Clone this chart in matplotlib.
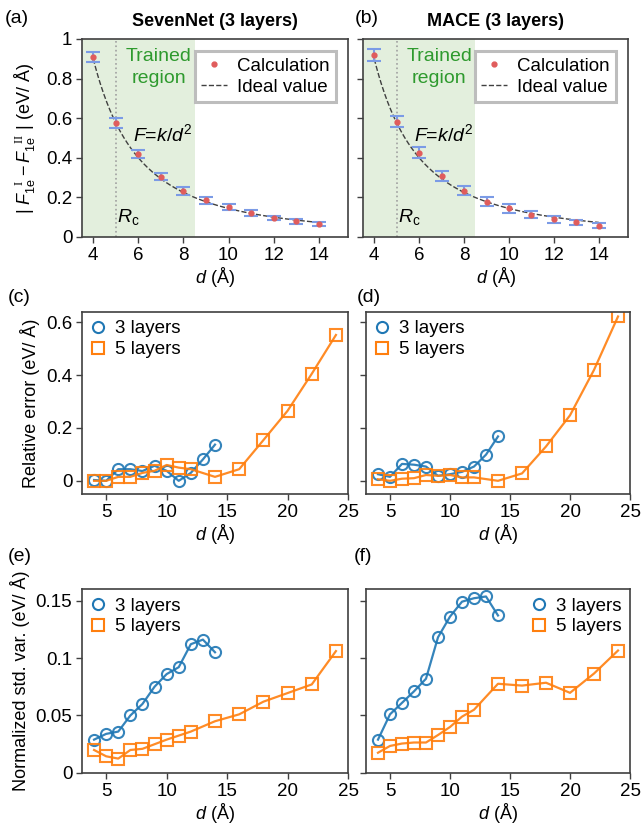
import matplotlib
matplotlib.use('agg')
import numpy as np
import matplotlib.pyplot as plt
from matplotlib.lines import Line2D

plt.rcParams['font.family'] = ['Liberation Sans', 'DejaVu Sans']
plt.rcParams['font.size'] = 13
plt.rcParams['mathtext.fontset'] = 'custom'
plt.rcParams['mathtext.rm'] = 'Liberation Sans'
plt.rcParams['mathtext.it'] = 'Liberation Sans:italic'
plt.rcParams['mathtext.sf'] = 'Liberation Serif'
plt.rcParams['axes.edgecolor'] = '#404040'
plt.rcParams['axes.linewidth'] = 1.2
plt.rcParams['xtick.color'] = '#404040'
plt.rcParams['ytick.color'] = '#404040'
plt.rcParams['xtick.labelcolor'] = 'black'
plt.rcParams['ytick.labelcolor'] = 'black'

# force difference vs. separation, 3-layer models
d_force = [4, 5, 6, 7, 8, 9, 10, 11, 12, 13, 14]
force_seven = [0.909, 0.574, 0.419, 0.304, 0.233, 0.186, 0.150, 0.122, 0.096, 0.079, 0.064]
err_seven = [0.025, 0.025, 0.020, 0.018, 0.019, 0.017, 0.016, 0.014, 0.012, 0.011, 0.011]
force_mace = [0.917, 0.583, 0.426, 0.309, 0.233, 0.179, 0.144, 0.113, 0.090, 0.074, 0.057]
err_mace = [0.030, 0.030, 0.028, 0.024, 0.023, 0.024, 0.024, 0.019, 0.017, 0.011, 0.012]
k_coulomb = 14.4

# relative error / normalized std. var. vs d
d_3l = [4, 5, 6, 7, 8, 9, 10, 11, 12, 13, 14]
d_5l = [4, 5, 6, 7, 8, 9, 10, 11, 12, 14, 16, 18, 20, 22, 24]

relerr_seven_3l = [0.003, 0.0, 0.044, 0.044, 0.037, 0.057, 0.038, 0.0, 0.030, 0.081, 0.137]
relerr_seven_5l = [0.0, 0.0, 0.015, 0.015, 0.030, 0.038, 0.060, 0.050, 0.044, 0.015, 0.044,
                   0.154, 0.265, 0.405, 0.552]
relerr_mace_3l = [0.025, 0.015, 0.064, 0.061, 0.054, 0.019, 0.025, 0.034, 0.054, 0.099, 0.168]
relerr_mace_5l = [0.006, 0.0, 0.008, 0.010, 0.022, 0.019, 0.022, 0.013, 0.013, 0.0, 0.028,
                  0.130, 0.248, 0.420, 0.622]

std_seven_3l = [0.029, 0.034, 0.036, 0.050, 0.060, 0.075, 0.086, 0.092, 0.112, 0.116, 0.105]
std_seven_5l = [0.020, 0.0145, 0.0125, 0.020, 0.021, 0.025, 0.029, 0.0325, 0.036, 0.045, 0.051,
                0.062, 0.0695, 0.077, 0.106]
std_mace_3l = [0.029, 0.051, 0.061, 0.071, 0.082, 0.118, 0.136, 0.149, 0.152, 0.1535, 0.137]
std_mace_5l = [0.0176, 0.0235, 0.0256, 0.0265, 0.0265, 0.033, 0.040, 0.049, 0.055, 0.0776, 0.076,
               0.0785, 0.0697, 0.0865, 0.1065]

BLUE = '#1f77b4'
ORANGE = '#ff7f0e'
GREEN_TXT = '#2e9a2e'
XLAB = r'$d$ (Å)'

fig = plt.figure(figsize=(6.44, 8.26), dpi=100)
ax_a = fig.add_axes([0.1273, 0.7131, 0.4131, 0.2397])
ax_b = fig.add_axes([0.5637, 0.7131, 0.4115, 0.2397])
ax_c = fig.add_axes([0.1273, 0.4019, 0.4131, 0.2207])
ax_d = fig.add_axes([0.5683, 0.4019, 0.4100, 0.2207])
ax_e = fig.add_axes([0.1273, 0.0642, 0.4131, 0.2227])
ax_f = fig.add_axes([0.5683, 0.0642, 0.4100, 0.2227])


def force_panel(ax, vals, errs, title):
    ax.axvspan(3.5, 8.5, color='#e3efdd', lw=0, zorder=0)
    ax.axvline(5, color='#a0a0a0', ls=':', lw=1.2, zorder=1)
    dd = np.linspace(4, 14, 200)
    ax.plot(dd, k_coulomb / dd ** 2, ls='--', color='#404040', lw=1.0, zorder=2)
    ax.errorbar(d_force, vals, yerr=errs, fmt='none', ecolor='#7b9be6',
                elinewidth=1.5, capsize=5, capthick=1.5, zorder=3)
    ax.plot(d_force, vals, 'o', color='#e05c5c', ms=3.5, zorder=4)
    ax.set_xlim(3.5, 15.3)
    ax.set_ylim(0, 1)
    ax.set_xticks([4, 6, 8, 10, 12, 14])
    ax.set_yticks([0, 0.2, 0.4, 0.6, 0.8, 1])
    ax.set_yticklabels(['0', '0.2', '0.4', '0.6', '0.8', '1'])
    ax.set_xlabel(XLAB, labelpad=1)
    ax.set_title(title, fontweight='bold', fontsize=13, pad=9)
    ax.text(6.9, 0.91, 'Trained', color=GREEN_TXT, ha='center', va='center', fontsize=14)
    ax.text(6.9, 0.80, 'region', color=GREEN_TXT, ha='center', va='center', fontsize=14)
    ax.text(7.1, 0.52, r'$F$=$k$/$d^2$', ha='center', va='center', fontsize=14)
    ax.text(5.55, 0.10, r'$R_{\rm c}$', ha='center', va='center', fontsize=14)
    handles = [Line2D([], [], ls='none', marker='o', color='#e05c5c', ms=3.5),
               Line2D([], [], ls='--', color='#404040', lw=1.0)]
    leg = ax.legend(handles, ['Calculation', 'Ideal value'], loc='upper right',
                    fancybox=False, edgecolor='#bdbdbd', framealpha=1,
                    handlelength=1.4, handletextpad=0.5, borderpad=0.35,
                    labelspacing=0.2, fontsize=13.5, bbox_to_anchor=(0.99, 0.985))
    leg.get_frame().set_linewidth(2.2)


def series_panel(ax, y3, y5, ylim, legend_loc):
    ax.plot(d_3l, y3, '-o', color=BLUE, mfc='none', mec=BLUE, ms=8, mew=1.5,
            lw=1.6, alpha=0.9)
    ax.plot(d_5l, y5, '-s', color=ORANGE, mfc='none', mec=ORANGE, ms=8, mew=1.5,
            lw=1.6, alpha=0.9)
    ax.set_xlim(3, 25)
    ax.set_ylim(*ylim)
    ax.set_xticks([5, 10, 15, 20, 25])
    ax.set_xlabel(XLAB, labelpad=1)
    handles = [Line2D([], [], ls='none', marker='o', mfc='none', mec=BLUE, ms=8, mew=1.5),
               Line2D([], [], ls='none', marker='s', mfc='none', mec=ORANGE, ms=8, mew=1.5)]
    ax.legend(handles, ['3 layers', '5 layers'], loc=legend_loc, frameon=False,
              handlelength=0.8, handletextpad=0.5, borderaxespad=0.25,
              labelspacing=0.2, borderpad=0.2, fontsize=13.5)


force_panel(ax_a, force_seven, err_seven, 'SevenNet (3 layers)')
force_panel(ax_b, force_mace, err_mace, 'MACE (3 layers)')
ax_a.set_ylabel(r'$|\ F_{\rm 1e}^{\ \ \mathsf{I}} - F_{\rm 1e}^{\ \ \mathsf{II}}\ |$ (eV/ Å)',
                labelpad=6)
ax_b.set_yticklabels([])

series_panel(ax_c, relerr_seven_3l, relerr_seven_5l, (-0.05, 0.64), 'upper left')
series_panel(ax_d, relerr_mace_3l, relerr_mace_5l, (-0.05, 0.64), 'upper left')
for ax in (ax_c, ax_d):
    ax.set_yticks([0, 0.2, 0.4, 0.6])
ax_c.set_yticklabels(['0', '0.2', '0.4', '0.6'])
ax_d.set_yticklabels([])
ax_c.set_ylabel('Relative error (eV/ Å)', labelpad=4)

series_panel(ax_e, std_seven_3l, std_seven_5l, (0, 0.16), 'upper left')
series_panel(ax_f, std_mace_3l, std_mace_5l, (0, 0.16), 'upper right')
for ax in (ax_e, ax_f):
    ax.set_yticks([0, 0.05, 0.1, 0.15])
ax_e.set_yticklabels(['0', '0.05', '0.1', '0.15'])
ax_f.set_yticklabels([])
ax_e.set_ylabel('Normalized std. var. (eV/ Å)', labelpad=4)

for ax in (ax_a, ax_b, ax_c, ax_d, ax_e, ax_f):
    ax.tick_params(direction='out', length=4, width=1.0, labelsize=13.5, pad=3)

# panel letters
for lbl, (x, y) in zip('abcdef', [(0.008, 0.978), (0.551, 0.978), (0.012, 0.640),
                                  (0.554, 0.640), (0.012, 0.326), (0.549, 0.326)]):
    fig.text(x, y, f'({lbl})', fontsize=14, ha='left', va='center')

fig.savefig('out.png', dpi=100)
